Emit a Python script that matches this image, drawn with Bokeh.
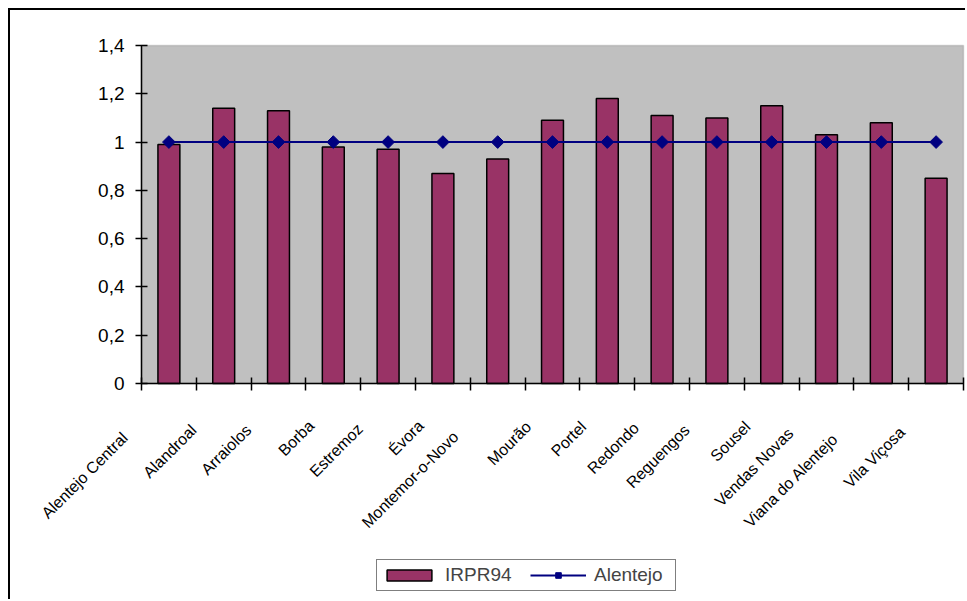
import math
from bokeh.plotting import figure
from bokeh.models import (Range1d, FixedTicker, ColumnDataSource, LabelSet,
                          Legend, LegendItem, LinearAxis, BoxAnnotation)
from bokeh.core.properties import value
from bokeh.embed import file_html
from bokeh.resources import INLINE

categories = ["Alentejo Central", "Alandroal", "Arraiolos", "Borba", "Estremoz",
              "Évora", "Montemor-o-Novo", "Mourão", "Portel", "Redondo",
              "Reguengos", "Sousel", "Vendas Novas", "Viana do Alentejo",
              "Vila Viçosa"]
irpr94 = [0.99, 1.14, 1.13, 0.98, 0.97, 0.87, 0.93, 1.09, 1.18, 1.11,
          1.10, 1.15, 1.03, 1.08, 0.85]
alentejo = [1, 1, 1, 1, 1, 1, 1, 1, 1, 1, 1, 1, 1, 1, 1]
y_ticks = [0, 0.2, 0.4, 0.6, 0.8, 1.0, 1.2, 1.4]
y_tick_labels = ["0", "0,2", "0,4", "0,6", "0,8", "1", "1,2", "1,4"]
Y_MAX = 1.4

FONT = "Liberation Sans"
BAR_COLOR = "#993366"
LINE_COLOR = "#000080"
n = len(categories)
xc = [i + 0.5 for i in range(n)]

# ---- layout constants (page pixels) ----
ORIGIN = 10                 # canvas left/top on the page (8px margin + 2px border)
W, H = 957, 591             # canvas size -> page 10..967, 10..601
AREA_L, AREA_R = 141, 963   # plot area (grey box) on the page
AREA_T, AREA_B = 45, 383
pxx = (AREA_R - AREA_L) / n
pxy = (AREA_B - AREA_T) / Y_MAX

x_range = Range1d(-(AREA_L - ORIGIN) / pxx, n + (ORIGIN + W - AREA_R) / pxx)
y_range = Range1d(-(ORIGIN + H - AREA_B) / pxy, Y_MAX + (AREA_T - ORIGIN) / pxy)

p = figure(width=W, height=H, output_backend="svg", toolbar_location=None,
           x_range=x_range, y_range=y_range,
           x_axis_type=None, y_axis_type=None,
           min_border=0, min_border_left=0, min_border_right=0,
           min_border_top=0, min_border_bottom=0)
p.styles = {"margin-left": "8px", "margin-top": "8px",
            "border-left": "2px solid black", "border-top": "2px solid black"}
p.outline_line_color = None
p.background_fill_color = "white"
p.border_fill_color = "white"
p.xgrid.visible = False
p.ygrid.visible = False

# grey plot area
area = BoxAnnotation(left=0, right=n, bottom=0, top=Y_MAX,
                     fill_color="#C0C0C0", fill_alpha=1,
                     line_color="#808080", line_width=1.5, level="underlay")
p.add_layout(area)

src = ColumnDataSource(dict(x=xc, irpr=irpr94, ale=alentejo))
bars = p.vbar(x="x", top="irpr", width=0.4, bottom=0, source=src,
              fill_color=BAR_COLOR, line_color="black", line_width=1.5)
line = p.line(x="x", y="ale", source=src, line_color=LINE_COLOR, line_width=2)
pts = p.scatter(x="x", y="ale", source=src, marker="square", angle=math.pi / 4,
                size=9, fill_color=LINE_COLOR, line_color=LINE_COLOR)

# y axis at x = 0
yaxis = LinearAxis(fixed_location=0, bounds=(0, Y_MAX),
                   ticker=FixedTicker(ticks=y_ticks),
                   major_label_overrides={t: l for t, l in zip(y_ticks, y_tick_labels)},
                   major_label_text_font=FONT, major_label_text_font_size="19px",
                   major_label_text_color="black",
                   major_tick_in=6, major_tick_out=6, major_label_standoff=11,
                   minor_tick_line_color=None,
                   axis_line_color="black", axis_line_width=1.5,
                   major_tick_line_width=1.5)
p.add_layout(yaxis, "left")

# x axis at y = 0 with category boundary ticks
xaxis = LinearAxis(fixed_location=0, bounds=(0, n),
                   ticker=FixedTicker(ticks=[], minor_ticks=list(range(n + 1))),
                   minor_tick_in=6, minor_tick_out=7,
                   minor_tick_line_color="black", minor_tick_line_width=1.5,
                   axis_line_color="black", axis_line_width=1.5)
p.add_layout(xaxis, "below")

# category labels
lab_src = ColumnDataSource(dict(
    x=xc, y=[0] * n, cat=categories,
    xoff=[-12 - 2 * len(c) for c in categories],
    yoff=[-(34 + 1.1 * len(c)) for c in categories],
))
labels = LabelSet(x="x", y="y", text="cat", source=lab_src, angle=math.pi / 4,
                  x_offset="xoff", y_offset="yoff",
                  text_align="right", text_baseline="middle",
                  text_font=value(FONT), text_font_size=value("16px"),
                  text_color="black")
p.add_layout(labels)

legend = Legend(items=[LegendItem(label="IRPR94", renderers=[bars]),
                       LegendItem(label="Alentejo", renderers=[line, pts])],
                orientation="horizontal",
                location=(376 - ORIGIN, ORIGIN + H - 591),
                border_line_color="black", border_line_width=1.5,
                background_fill_color="white", background_fill_alpha=1,
                padding=4, spacing=8, label_standoff=8,
                glyph_width=56, glyph_height=14, margin=0,
                label_text_font=FONT, label_text_font_size="19px",
                label_height=18, label_width=77)
p.add_layout(legend)

open("out.html", "w").write(file_html(p, INLINE))
